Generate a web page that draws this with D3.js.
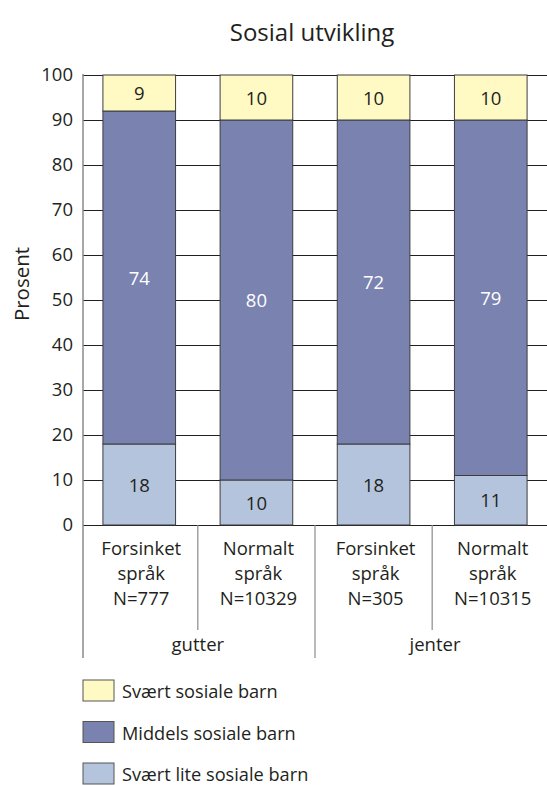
<!DOCTYPE html>
<html>
<head>
<meta charset="utf-8">
<script src="https://cdn.jsdelivr.net/npm/d3@7"></script>
<style>
  body { margin: 0; background: #fff; }
  svg { display: block; font-family: "Open Sans", "Noto Sans", sans-serif; }
</style>
</head>
<body>
<svg id="chart" width="547" height="785"></svg>
<script>
// Stacked shares (percent) of social development per language group
const categories = ["Forsinket språk N=777", "Normalt språk N=10329", "Forsinket språk N=305", "Normalt språk N=10315"];
const categoryLines = [["Forsinket", "språk", "N=777"], ["Normalt", "språk", "N=10329"], ["Forsinket", "språk", "N=305"], ["Normalt", "språk", "N=10315"]];
const groups = ["gutter", "jenter"];
const seriesNames = ["Svært lite sosiale barn", "Middels sosiale barn", "Svært sosiale barn"];
const svaertLite = [18, 10, 18, 11];
const middels = [74, 80, 72, 79];
const svaert = [9, 10, 10, 10];
const yTicks = [0, 10, 20, 30, 40, 50, 60, 70, 80, 90, 100];
const legendOrder = ["Svært sosiale barn", "Middels sosiale barn", "Svært lite sosiale barn"];

const colors = {
  "Svært lite sosiale barn": "#b5c4dd",
  "Middels sosiale barn": "#7a82b0",
  "Svært sosiale barn": "#fff9c4"
};
const labelColors = {
  "Svært lite sosiale barn": "#231f20",
  "Middels sosiale barn": "#ffffff",
  "Svært sosiale barn": "#231f20"
};

const svg = d3.select("#chart");
const plotLeft = 83, plotRight = 547, plotTop = 75, plotBottom = 525;
const textColor = "#231f20";

const x = d3.scaleBand().domain(categories).range([plotLeft, plotRight]).paddingInner(0.38).paddingOuter(0.17);
const y = d3.scaleLinear().domain([0, 100]).range([plotBottom, plotTop]).clamp(true);

// Title
svg.append("text").attr("x", 312).attr("y", 41).attr("text-anchor", "middle")
  .attr("font-size", 24).attr("fill", textColor).text("Sosial utvikling");

// Y axis title
svg.append("text").attr("transform", "translate(29,284) rotate(-90)")
  .attr("text-anchor", "middle").attr("font-size", 20.5).attr("fill", textColor).text("Prosent");

// Gridlines and tick labels
const yAxis = d3.axisLeft(y).tickValues(yTicks).tickSize(-(plotRight - plotLeft)).tickPadding(10);
const gy = svg.append("g").attr("transform", `translate(${plotLeft},0)`).call(yAxis);
gy.select(".domain").remove();
gy.selectAll(".tick line").attr("stroke", textColor).attr("stroke-width", 1.2);
gy.selectAll(".tick text").attr("font-size", 18.5).attr("fill", textColor)
  .attr("font-family", "'Open Sans', sans-serif");

// Stacked data
const table = categories.map((c, i) => ({
  cat: c,
  "Svært lite sosiale barn": svaertLite[i],
  "Middels sosiale barn": middels[i],
  "Svært sosiale barn": svaert[i]
}));
const stacked = d3.stack().keys(seriesNames)(table);

const layers = svg.append("g").selectAll("g").data(stacked).join("g")
  .attr("fill", d => colors[d.key]);
layers.selectAll("rect").data(d => d).join("rect")
  .attr("x", d => x(d.data.cat))
  .attr("width", x.bandwidth())
  .attr("y", d => y(d[1]))
  .attr("height", d => y(d[0]) - y(d[1]))
  .attr("stroke", "#3d3d3d").attr("stroke-width", 1);

// Value labels
stacked.forEach(layer => {
  svg.append("g").selectAll("text").data(layer).join("text")
    .attr("x", d => x(d.data.cat) + x.bandwidth() / 2)
    .attr("y", d => (y(d[0]) + y(d[1])) / 2 + 7)
    .attr("text-anchor", "middle").attr("font-size", 18.5)
    .attr("fill", labelColors[layer.key])
    .text(d => d.data[layer.key]);
});

// Left axis line extending into the category area
svg.append("line").attr("x1", plotLeft).attr("x2", plotLeft).attr("y1", plotTop - 1).attr("y2", 658)
  .attr("stroke", "#8a8a8a").attr("stroke-width", 1.5);

// Category dividers
const bounds = categories.map(c => x(c) - x.step() * x.paddingInner() / 2).slice(1);
bounds.forEach((b, i) => {
  svg.append("line").attr("x1", b).attr("x2", b).attr("y1", plotBottom)
    .attr("y2", i === 1 ? 658 : 630).attr("stroke", "#8a8a8a").attr("stroke-width", 1.2);
});

// Category labels
categoryLines.forEach((lines, i) => {
  const cx = x(categories[i]) + x.bandwidth() / 2 + 2;
  const t = svg.append("text").attr("text-anchor", "middle").attr("font-size", 18.5).attr("fill", textColor);
  lines.forEach((ln, j) => {
    t.append("tspan").attr("x", cx).attr("y", 555 + j * 25).text(ln);
  });
});

// Group labels
const groupCenters = [bounds[0], (bounds[1] + plotRight) / 2 + 4];
groups.forEach((g, i) => {
  svg.append("text").attr("x", groupCenters[i]).attr("y", 651).attr("text-anchor", "middle")
    .attr("font-size", 18.5).attr("fill", textColor).text(g);
});

// Legend
const legend = svg.append("g").attr("transform", "translate(83,680)");
legendOrder.forEach((name, i) => {
  const row = legend.append("g").attr("transform", `translate(0,${i * 41.5})`);
  row.append("rect").attr("width", 31).attr("height", 21)
    .attr("fill", colors[name]).attr("stroke", "#555").attr("stroke-width", 1);
  row.append("text").attr("x", 39).attr("y", 18).attr("font-size", 18.2)
    .attr("fill", textColor).text(name);
});
</script>
</body>
</html>
